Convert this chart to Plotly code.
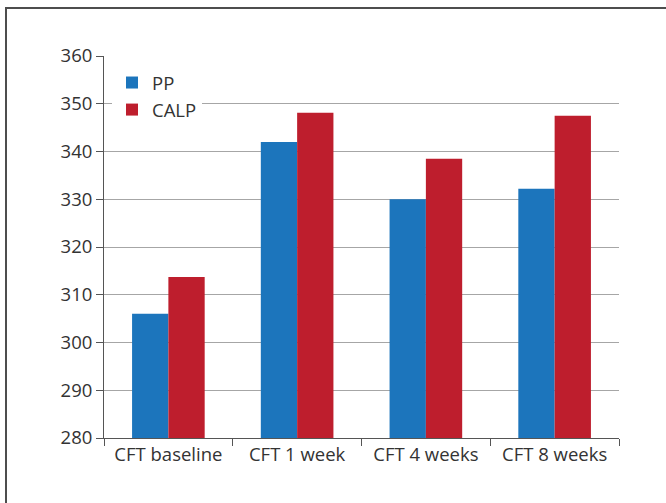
import plotly.graph_objects as go

categories = ["CFT baseline", "CFT 1 week", "CFT 4 weeks", "CFT 8 weeks"]
pp_values = [306.0, 342.0, 330.0, 332.2]
calp_values = [313.7, 348.1, 338.5, 347.5]
y_ticks = [280, 290, 300, 310, 320, 330, 340, 350, 360]

W, H = 666, 503
L, T = 104, 56
R = W - 619
B = H - 438
pw, ph = W - L - R, H - T - B

fig = go.Figure()
fig.add_trace(go.Bar(name="PP", x=categories, y=pp_values, marker_color="#1c75bc",
                     marker_line_width=0))
fig.add_trace(go.Bar(name="CALP", x=categories, y=calp_values, marker_color="#be1e2d",
                     marker_line_width=0))

font = dict(family="Open Sans, Noto Sans, sans-serif", size=18.5, color="#333333")

fig.update_layout(
    width=W, height=H,
    margin=dict(l=L, r=R, t=T, b=B),
    paper_bgcolor="white", plot_bgcolor="white",
    barmode="group", bargap=0.436, bargroupgap=0,
    font=font,
    showlegend=True,
    legend=dict(x=(112 - L) / pw, y=1 - (64 - T) / ph, xanchor="left", yanchor="top",
                bgcolor="white", font=font, entrywidth=80,
                tracegroupgap=0, itemsizing="constant", itemwidth=30),
    xaxis=dict(showline=True, linecolor="#555555", linewidth=1,
               ticks="outside", ticklen=7, tickcolor="#555555",
               tickson="boundaries", showgrid=False, tickfont=font,
               fixedrange=True),
    yaxis=dict(range=[280, 360], tickvals=y_ticks, showline=True, linecolor="#555555",
               linewidth=1, ticks="outside", ticklen=7, tickcolor="#555555",
               showgrid=True, gridcolor="#a6a6a6", gridwidth=1, zeroline=False,
               tickfont=font, fixedrange=True),
    shapes=[dict(type="rect", xref="paper", yref="paper",
                 x0=(6 - L) / pw, x1=(700 - L) / pw,
                 y0=-(540 - 438) / ph, y1=1 + (T - 8) / ph,
                 line=dict(color="#4d4d4d", width=2), fillcolor="rgba(0,0,0,0)",
                 layer="below")],
)

fig.write_html("out.html", config={"displayModeBar": False},
               post_script="document.body.style.margin='0';")
